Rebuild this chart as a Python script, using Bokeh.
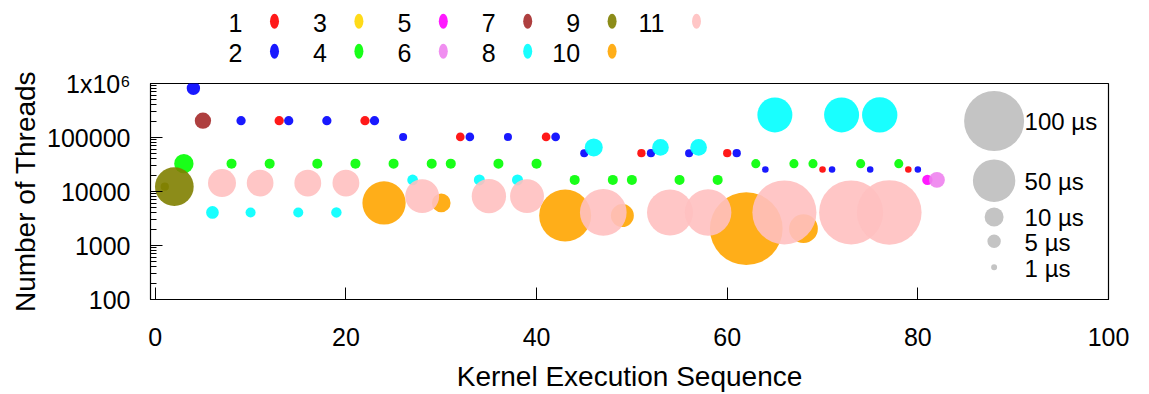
import math
from bokeh.plotting import figure
from bokeh.models import Range1d, FixedTicker, CustomJSTickFormatter, ColumnDataSource
from bokeh.layouts import column
from bokeh.embed import file_html
from bokeh.resources import INLINE
from bokeh.core.properties import value

# ---------------- data ----------------
series_names = ["1", "2", "3", "4", "5", "6", "7", "8", "9", "10", "11"]
series_colors = ["#ff0000", "#0000ff", "#ffd700", "#00ff00", "#ff00ff", "#ee82ee",
                 "#a52a2a", "#00ffff", "#808000", "#ffa500", "#ffc0c0"]

# x = kernel sequence index, y = number of threads, t = execution time (us)
s1_x = [13, 22, 32, 41, 51, 60, 70, 79]
s1_y = [204800, 204800, 102400, 102400, 51200, 51200, 25600, 25600]
s1_t = [2.4, 2.4, 2.1, 2.1, 1.9, 1.9, 1.2, 1.2]

s2_x = [4, 9, 14, 18, 23, 26, 33, 37, 42, 45, 52, 56, 61, 64, 71, 75, 80]
s2_y = [819200, 204800, 204800, 204800, 204800, 102400, 102400, 102400, 102400,
        51200, 51200, 51200, 51200, 25600, 25600, 25600, 25600]
s2_t = [5.0, 2.4, 2.4, 2.4, 2.4, 1.8, 2.1, 1.8, 2.1, 1.8, 1.9, 1.8, 1.9, 1.2, 1.2, 1.2, 1.2]

s3_x = []
s3_y = []
s3_t = []

s4_x = [3, 8, 12, 17, 21, 25, 29, 31, 36, 40, 44, 48, 50, 55, 59, 63, 67, 69, 74, 78]
s4_y = [32768, 32768, 32768, 32768, 32768, 32768, 32768, 32768, 32768, 32768,
        16384, 16384, 16384, 16384, 16384, 32768, 32768, 32768, 32768, 32768]
s4_t = [10.4, 2.8, 2.8, 2.8, 2.8, 2.8, 2.8, 2.8, 2.8, 2.8,
        2.8, 2.8, 2.8, 2.8, 2.8, 2.3, 2.3, 2.3, 2.3, 2.3]

s5_x = [81]
s5_y = [16384]
s5_t = [3.0]

s6_x = [82]
s6_y = [16384]
s6_t = [7.0]

s7_x = [5]
s7_y = [204800]
s7_t = [7.4]

s8_x = [6, 10, 15, 19, 27, 34, 38, 46, 53, 57, 65, 72, 76]
s8_y = [4096, 4096, 4096, 4096, 16384, 16384, 16384, 65536, 65536, 65536,
        262144, 262144, 262144]
s8_t = [4.5, 2.8, 2.8, 3.0, 3.2, 3.4, 3.4, 9.0, 7.7, 7.7, 34.0, 34.0, 34.7]

s9_x = [1, 2]
s9_y = [12288, 12288]
s9_t = [1.9, 41.6]

s10_x = [24, 30, 43, 49, 62, 68]
s10_y = [6144, 6144, 3584, 3584, 2048, 2048]
s10_t = [52.0, 9.7, 75.0, 14.7, 147.0, 23.0]

s11_x = [7, 11, 16, 20, 28, 35, 39, 47, 54, 58, 66, 73, 77]
s11_y = [14336, 14336, 14336, 14336, 8192, 8192, 8192, 4096, 4096, 4096, 4096, 4096, 4096]
s11_t = [21.8, 19.8, 20.0, 20.0, 32.0, 32.7, 32.0, 60.5, 58.8, 60.0, 114.0, 114.0, 116.0]

size_legend_us = [100, 50, 10, 5, 1]
size_legend_labels = ["100 µs", "50 µs", "10 µs", "5 µs", "1 µs"]

x_ticks = [0, 20, 40, 60, 80, 100]
y_ticks = [100, 1000, 10000, 100000, 1000000]

all_x = [s1_x, s2_x, s3_x, s4_x, s5_x, s6_x, s7_x, s8_x, s9_x, s10_x, s11_x]
all_y = [s1_y, s2_y, s3_y, s4_y, s5_y, s6_y, s7_y, s8_y, s9_y, s10_y, s11_y]
all_t = [s1_t, s2_t, s3_t, s4_t, s5_t, s6_t, s7_t, s8_t, s9_t, s10_t, s11_t]

# ---------------- style / layout ----------------
FONT = "Liberation Sans"
PX_PER_SQRT_US = 6.0
ALPHA = 0.9
FIG_W = 1133
FRAME_L, FRAME_R = 150, 1108      # frame edges in page pixels (shared by both figures)
FRAME_H = 216
LEG_H = 66


def bubble(t):
    return PX_PER_SQRT_US * math.sqrt(t)


# ---------------- legend strip (top) ----------------
leg = figure(width=FIG_W, height=LEG_H, x_range=Range1d(FRAME_L, FRAME_R),
             y_range=Range1d(LEG_H, 0),
             output_backend="svg", toolbar_location=None, x_axis_location=None,
             y_axis_location=None, min_border=0, outline_line_color=None)
leg.grid.visible = False

col_x0, col_dx = 274.0, 84.4
row_y = [20.7, 50.7]
lx, ly, lc, tx, ty, tl = [], [], [], [], [], []
for i, (name, col) in enumerate(zip(series_names, series_colors)):
    c, r = divmod(i, 2)
    mx = col_x0 + c * col_dx
    lx.append(mx)
    ly.append(row_y[r])
    lc.append(col)
    tx.append(mx - 32)
    ty.append(row_y[r] + 1.8)
    tl.append(name)
leg.ellipse(x=lx, y=ly, width=9, height=15, fill_color=lc, fill_alpha=ALPHA, line_color=None)
leg.text(x=tx, y=ty, text=tl, text_align="right", text_baseline="middle",
         text_font=value(FONT), text_font_size="25px", text_color="black")

# ---------------- main plot ----------------
p = figure(frame_width=FRAME_R - FRAME_L, frame_height=FRAME_H, y_axis_type="log",
           x_range=Range1d(-0.5, 100), y_range=Range1d(100, 1e6),
           output_backend="svg", toolbar_location=None,
           min_border_left=FRAME_L, min_border_right=FIG_W - FRAME_R,
           min_border_top=17, min_border_bottom=60)
p.grid.visible = False
p.outline_line_color = "black"
p.outline_line_width = 1.2

for xs, ys, ts, col in zip(all_x, all_y, all_t, series_colors):
    if not xs:
        continue
    src = ColumnDataSource(dict(x=xs, y=ys, s=[bubble(t) for t in ts]))
    p.scatter("x", "y", size="s", source=src, marker="circle",
              fill_color=col, fill_alpha=ALPHA, line_color=None)

# bubble-size key (positions in axis coordinates)
key_x = 88.0
key_text_x = 91.2
key_log_y = [5.306, 4.20, 3.528, 3.078, 2.596]
key_y = [10 ** v for v in key_log_y]
p.scatter(x=[key_x] * len(size_legend_us), y=key_y,
          size=[bubble(t) for t in size_legend_us], marker="circle",
          fill_color="#c4c4c4", line_color=None)
p.text(x=[key_text_x] * len(size_legend_labels), y=[v * 0.97 for v in key_y],
       text=size_legend_labels, text_align="left", text_baseline="middle",
       text_font=value(FONT), text_font_size="24px", text_color="black")

# axes
for ax in (p.xaxis[0], p.yaxis[0]):
    ax.axis_line_color = "black"
    ax.major_tick_line_color = "black"
    ax.minor_tick_line_color = "black"
    ax.major_tick_in = 12
    ax.major_tick_out = 0
    ax.minor_tick_in = 6
    ax.minor_tick_out = 0
    ax.major_label_text_font = FONT
    ax.major_label_text_font_size = "25px"
    ax.major_label_text_color = "black"
    ax.axis_label_text_font = FONT
    ax.axis_label_text_font_size = "28px"
    ax.axis_label_text_font_style = "normal"
    ax.axis_label_text_color = "black"

p.xaxis.ticker = FixedTicker(ticks=x_ticks)
p.xaxis.minor_tick_line_color = None
p.xaxis.axis_label = "Kernel Execution Sequence"
p.xaxis.major_label_standoff = 28
p.xaxis.axis_label_standoff = 12

minor = [m * 10 ** k for k in range(2, 6) for m in range(2, 10)]
p.yaxis.ticker = FixedTicker(ticks=y_ticks, minor_ticks=minor)
p.yaxis.formatter = CustomJSTickFormatter(
    code="return tick >= 999999 ? '1x10\u2076' : tick.toFixed(0);")
p.yaxis.axis_label = "Number of Threads"
p.yaxis.major_label_standoff = 20
p.yaxis.axis_label_standoff = 3

layout = column(leg, p, spacing=0)
open("out.html", "w").write(file_html(layout, INLINE))
